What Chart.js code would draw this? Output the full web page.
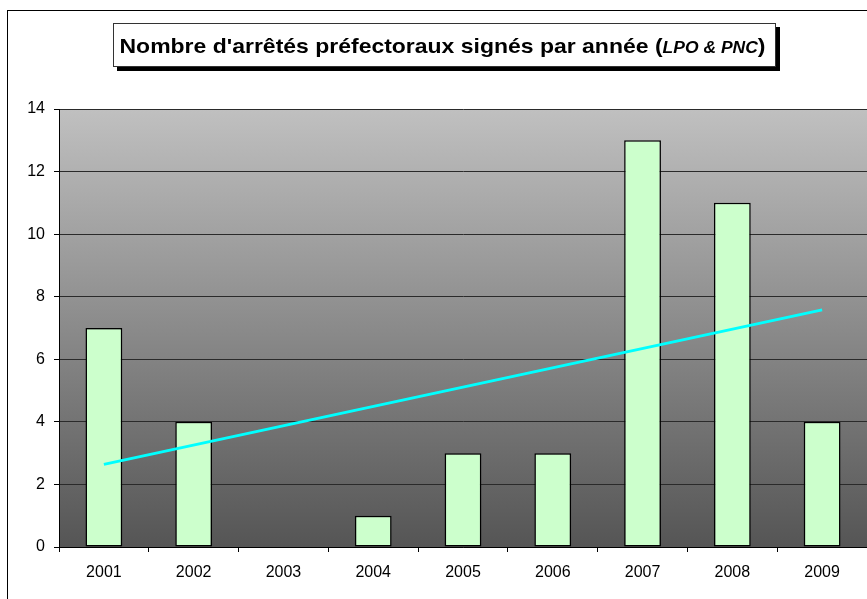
<!DOCTYPE html>
<html>
<head>
<meta charset="utf-8">
<script src="https://cdn.jsdelivr.net/npm/chart.js@4"></script>
<style>
  html, body { margin: 0; padding: 0; background: #fff; }
  canvas { display: block; }
</style>
</head>
<body>
<canvas id="chart" width="867" height="599"></canvas>
<script>
const years = ['2001', '2002', '2003', '2004', '2005', '2006', '2007', '2008', '2009'];
const arretes = [7, 4, 0, 1, 3, 3, 13, 11, 4];
// trend line: start at 2001, end at 2009
const trendEnds = [2.64, 7.58];
const yTicks = [0, 2, 4, 6, 8, 10, 12, 14];

const trend = years.map((y, i) => i === 0 ? trendEnds[0] : (i === years.length - 1 ? trendEnds[1] : null));

const FONT = "'Liberation Sans', Arial, sans-serif";

const decor = {
  id: 'decor',
  beforeDraw(chart) {
    const { ctx, chartArea: a } = chart;
    ctx.save();
    ctx.fillStyle = '#fff';
    ctx.fillRect(0, 0, chart.width, chart.height);
    // outer frame
    ctx.strokeStyle = '#000';
    ctx.lineWidth = 1;
    ctx.strokeRect(7.5, 10.5, 1000, 1000);
    // plot area gradient
    const g = ctx.createLinearGradient(0, a.top, 0, a.bottom);
    g.addColorStop(0, '#c0c0c0');
    g.addColorStop(1, '#555555');
    ctx.fillStyle = g;
    ctx.fillRect(a.left, a.top, a.right - a.left, a.bottom - a.top);
    ctx.restore();
  },
  afterDraw(chart) {
    const { ctx } = chart;
    ctx.save();
    // title box with shadow
    const bx = 113, by = 23, bw = 663, bh = 44;
    ctx.fillStyle = '#000';
    ctx.fillRect(bx + 4, by + 4, bw, bh);
    ctx.fillStyle = '#fff';
    ctx.fillRect(bx, by, bw, bh);
    ctx.strokeStyle = '#333';
    ctx.lineWidth = 1;
    ctx.strokeRect(bx + 0.5, by + 0.5, bw - 1, bh - 1);

    const parts = [
      { t: "Nombre d'arrêtés préfectoraux signés par année (", f: 'bold 21px ' + FONT },
      { t: 'LPO & PNC', f: 'italic bold 16px ' + FONT },
      { t: ')', f: 'bold 21px ' + FONT }
    ];
    let total = 0;
    parts.forEach(p => { ctx.font = p.f; p.w = ctx.measureText(p.t).width; total += p.w; });
    const target = 646; // text width in the picture
    const sx = target / total;
    ctx.translate(bx + bw / 2 - target / 2 - 2, 0);
    ctx.scale(sx, 1);
    let x = 0;
    ctx.fillStyle = '#000';
    ctx.textBaseline = 'alphabetic';
    parts.forEach(p => {
      ctx.font = p.f;
      ctx.fillText(p.t, x, 53);
      x += p.w;
    });
    ctx.restore();
  }
};

new Chart(document.getElementById('chart'), {
  data: {
    labels: years,
    datasets: [
      {
        type: 'line',
        data: trend,
        spanGaps: true,
        borderColor: '#00ffff',
        borderWidth: 3,
        pointRadius: 0,
        tension: 0,
        order: 1
      },
      {
        type: 'bar',
        data: arretes,
        backgroundColor: '#ccffcc',
        borderColor: '#000',
        borderWidth: 1.5,
        borderSkipped: false,
        categoryPercentage: 1,
        barPercentage: 0.41,
        order: 2
      }
    ]
  },
  options: {
    responsive: false,
    animation: false,
    devicePixelRatio: 1,
    layout: { padding: { left: 0, top: 109, right: 0, bottom: 0 } },
    plugins: { legend: { display: false }, tooltip: { enabled: false } },
    scales: {
      x: {
        offset: true,
        afterFit: s => { s.height = 52; },
        grid: {
          offset: true,
          drawOnChartArea: false,
          drawTicks: true,
          tickLength: 5,
          color: '#000'
        },
        border: { color: '#000', width: 1 },
        ticks: { color: '#000', font: { family: FONT, size: 16 }, padding: 11, maxRotation: 0 }
      },
      y: {
        min: 0,
        max: 14,
        afterFit: s => { s.width = 59; },
        afterBuildTicks: s => { s.ticks = yTicks.map(v => ({ value: v })); },
        grid: {
          color: '#2a2a2a',
          lineWidth: 1,
          drawTicks: true,
          tickLength: 5,
          tickColor: '#000'
        },
        border: { color: '#000', width: 1 },
        ticks: { color: '#000', font: { family: FONT, size: 16 }, padding: 9 }
      }
    }
  },
  plugins: [decor]
});
</script>
</body>
</html>
